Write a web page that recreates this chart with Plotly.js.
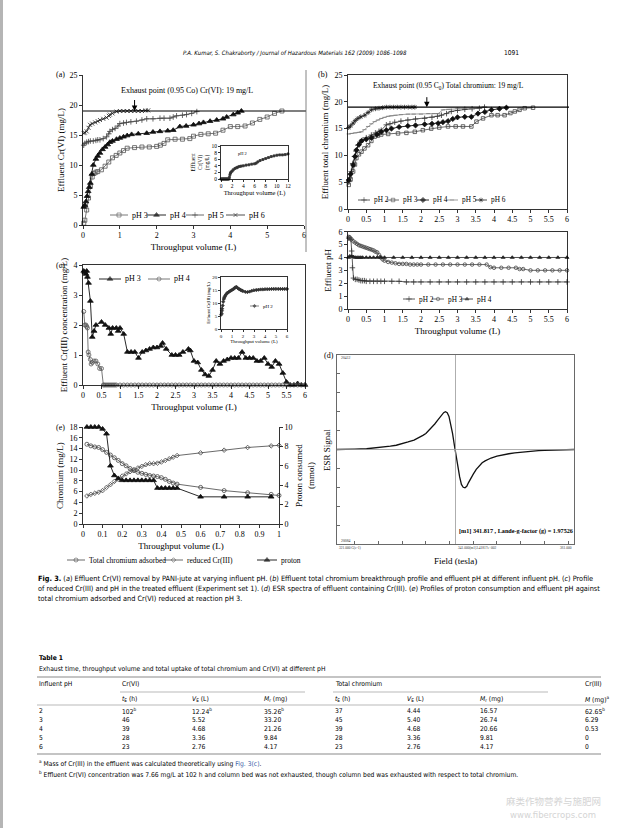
<!DOCTYPE html>
<html><head><meta charset="utf-8">
<script src="https://cdn.plot.ly/plotly-3.0.1.min.js"></script>
<style>html,body{margin:0;padding:0;background:#fff}#chart{width:620px;height:828px}</style>
</head><body><div id="chart"></div>
<script>
// ================= DATA =================
// (a) Effluent Cr(VI) vs throughput volume
const a_pH3_x = [0.02,0.05,0.1,0.15,0.2,0.25,0.3,0.35,0.4,0.5,0.6,0.7,0.8,0.9,1.0,1.1,1.2,1.4,1.6,1.8,2.0,2.1,2.2,2.3,2.5,2.7,2.9,3.0,3.2,3.4,3.6,3.8,4.0,4.2,4.4,4.6,4.8,5.0,5.2,5.4];
const a_pH3_y = [0.3,0.8,2.5,4.5,6.5,8.0,8.6,8.8,8.9,9.2,9.8,10.5,11.2,11.6,12.0,12.4,12.8,12.9,13.0,13.0,13.1,13.3,13.6,14.2,14.3,14.3,14.4,14.8,15.1,15.2,15.3,15.8,16.4,16.4,16.5,17.0,17.6,18.0,18.6,19.0];
const a_pH4_x = [0.02,0.05,0.08,0.11,0.14,0.17,0.2,0.24,0.28,0.35,0.4,0.46,0.53,0.6,0.67,0.73,0.8,0.91,1.0,1.1,1.2,1.32,1.5,1.73,1.9,2.09,2.3,2.45,2.63,2.8,3.0,3.15,3.27,3.45,3.63,3.8,3.9,4.08,4.2,4.3];
const a_pH4_y = [3.0,3.3,3.9,4.8,5.6,6.3,7.0,8.5,10.0,11.0,11.5,12.0,12.6,13.0,13.4,13.8,14.0,14.3,14.5,14.7,14.9,15.1,15.2,15.3,15.5,15.6,15.7,15.8,16.4,16.5,16.7,16.9,17.1,17.3,17.5,17.7,18.0,18.4,18.7,19.0];
const a_pH5_x = [0.02,0.05,0.1,0.15,0.2,0.28,0.35,0.4,0.46,0.55,0.64,0.7,0.73,0.8,0.87,0.95,1.0,1.1,1.18,1.3,1.45,1.6,1.73,1.9,2.09,2.2,2.36,2.45,2.54,2.7,2.81,2.95,3.09];
const a_pH5_y = [13.3,13.6,13.8,13.9,14.0,14.0,14.1,14.2,14.2,14.4,14.7,15.2,15.6,15.9,16.1,16.5,16.9,17.0,17.1,17.2,17.3,17.5,17.7,17.7,17.8,17.8,17.8,18.0,18.2,18.3,18.4,18.6,18.9];
const a_pH6_x = [0.02,0.05,0.1,0.15,0.19,0.25,0.33,0.4,0.46,0.55,0.64,0.7,0.73,0.8,0.91,1.0,1.1,1.2,1.3,1.4,1.5,1.6,1.7,1.77];
const a_pH6_y = [15.3,15.4,15.6,16.2,16.7,16.9,17.1,17.3,17.5,17.7,17.9,18.2,18.4,18.6,18.9,19.0,19.0,19.0,19.0,19.0,19.0,19.0,19.1,19.1];
// (a) inset, pH 2
const ai_x = [0,0.1,0.2,0.3,0.4,0.5,0.6,0.7,0.8,0.9,1.0,1.1,1.2,1.3,1.4,1.5,1.6,1.7,1.8,2.0,2.2,2.5,2.8,3.0,3.3,3.6,4.0,4.5,5.0,5.5,6.0,6.3,6.6,7.0,7.5,8.0,8.5,9.0,9.5,10.0,10.5,11.0,11.5,12.0];
const ai_y = [0,0,0,0,0,0,0,0,0,0,0,0,0,0,0,0.5,1.3,1.8,2.1,2.4,2.8,3.2,3.4,3.6,3.8,3.9,4.0,4.2,4.3,4.5,4.6,4.8,5.2,5.6,5.9,6.2,6.5,6.8,7.0,7.2,7.3,7.3,7.4,7.6];

// (b) Effluent total chromium
const b_pH2_x = [0.02,0.05,0.09,0.13,0.18,0.22,0.27,0.33,0.41,0.5,0.64,0.75,0.85,0.91,1.05,1.15,1.28,1.45,1.64,1.85,2.1,2.3,2.45,2.56,2.7,2.83,3.0,3.2,3.4,3.6,3.74];
const b_pH2_y = [5.1,5.8,7.0,8.5,9.8,10.8,11.9,12.5,12.9,13.3,13.8,14.2,14.5,14.7,15.7,15.9,16.2,16.4,16.6,16.8,16.9,17.1,17.3,17.5,17.8,18.2,18.4,18.6,18.7,18.8,19.0];
const b_pH3_x = [0.02,0.07,0.14,0.19,0.23,0.3,0.37,0.45,0.55,0.64,0.73,0.82,0.91,1.1,1.37,1.6,1.83,2.05,2.28,2.5,2.74,2.95,3.15,3.38,3.52,3.7,3.93,4.1,4.29,4.45,4.57,4.7,4.84,5.07];
const b_pH3_y = [4.5,5.5,7.0,8.3,9.5,10.2,10.7,11.3,11.9,12.7,13.5,13.7,13.9,14.0,14.1,14.2,14.4,14.7,15.0,15.2,15.4,15.4,15.4,15.4,16.3,16.9,17.5,17.5,17.5,17.9,18.2,18.5,18.8,18.9];
const b_pH4_x = [0.02,0.07,0.14,0.19,0.23,0.3,0.37,0.5,0.64,0.8,0.91,1.05,1.19,1.4,1.64,1.85,2.1,2.3,2.47,2.6,2.74,2.87,3.0,3.2,3.38,3.56,3.75,3.93,4.15,4.34];
const b_pH4_y = [5.4,6.5,8.2,9.8,11.0,12.0,12.7,13.0,13.3,13.9,14.4,14.7,15.0,15.3,15.5,15.6,15.8,15.9,16.0,16.2,16.4,16.8,17.1,17.2,17.2,17.8,18.1,18.5,18.7,18.9];
const b_pH5_x = [0.02,0.1,0.2,0.3,0.37,0.45,0.55,0.64,0.73,0.82,0.91,1.0,1.1,1.19,1.3,1.45,1.64,1.8,2.0,2.2,2.35,2.47,2.6,2.75,3.0,3.2,3.4,3.6,3.74];
const b_pH5_y = [14.0,14.1,14.2,14.3,14.4,14.8,15.4,15.9,16.3,16.6,16.9,17.1,17.3,17.4,17.5,17.6,17.7,17.7,17.7,17.8,17.8,17.8,18.5,18.6,18.8,18.8,18.8,18.9,19.0];
const b_pH6_x = [0.02,0.07,0.14,0.2,0.27,0.35,0.46,0.55,0.64,0.75,0.85,0.95,1.05,1.15,1.25,1.35,1.45,1.55,1.65,1.75,1.83];
const b_pH6_y = [15.2,15.5,16.0,16.5,16.9,17.2,17.5,18.0,18.5,18.7,18.8,18.9,19.0,19.0,19.0,19.0,19.0,19.0,19.0,19.0,19.0];

// (b) Effluent pH
const p_pH2_x = [0.02,0.05,0.08,0.1,0.12,0.15,0.2,0.25,0.3,0.35,0.4,0.45,0.5,0.6,0.7,0.8,0.9,1.0,1.2,1.4,1.6,1.8,2.0,2.25,2.5,2.75,3.0,3.25,3.5,3.75,4.0,4.25,4.5,4.75,5.0,5.25,5.5,5.75,6.0];
const p_pH2_y = [5.5,5.5,5.4,4.5,3.2,2.4,2.3,2.3,2.25,2.2,2.2,2.2,2.15,2.15,2.15,2.15,2.15,2.15,2.15,2.15,2.1,2.1,2.1,2.1,2.1,2.1,2.1,2.1,2.1,2.1,2.1,2.1,2.1,2.1,2.1,2.1,2.1,2.1,2.1];
const p_pH3_x = [0.02,0.05,0.1,0.15,0.2,0.25,0.3,0.35,0.4,0.45,0.5,0.55,0.6,0.65,0.7,0.75,0.8,0.85,0.9,0.95,1.0,1.1,1.2,1.3,1.4,1.5,1.6,1.7,1.8,1.9,2.0,2.2,2.4,2.6,2.8,3.0,3.2,3.4,3.6,3.8,3.9,4.0,4.2,4.4,4.6,4.7,4.8,5.0,5.2,5.4,5.6,5.8,6.0];
const p_pH3_y = [5.6,5.55,5.4,5.25,5.15,5.05,4.95,4.9,4.85,4.8,4.75,4.7,4.65,4.6,4.55,4.45,4.4,4.2,4.0,3.85,3.75,3.65,3.6,3.55,3.5,3.5,3.5,3.45,3.45,3.45,3.45,3.45,3.45,3.45,3.45,3.45,3.45,3.45,3.45,3.45,3.25,3.2,3.2,3.2,3.2,3.1,3.1,3.0,3.0,3.0,3.0,3.0,3.0];
const p_pH4_x = [0.02,0.05,0.1,0.15,0.2,0.25,0.3,0.35,0.4,0.5,0.6,0.7,0.8,0.9,1.0,1.25,1.5,1.75,2.0,2.25,2.5,2.75,3.0,3.25,3.5,3.75,4.0,4.25,4.5,4.75,5.0,5.25,5.5,5.75,6.0];
const p_pH4_y = [4.0,4.1,4.1,4.05,4.0,4.0,4.0,4.0,4.0,4.0,4.0,4.0,4.0,4.0,4.0,4.0,4.0,4.0,4.0,4.0,4.0,4.0,4.0,4.0,4.0,4.0,4.0,4.0,4.0,4.0,4.0,4.0,4.0,4.0,4.0];

// (c) Effluent Cr(III)
const c_pH3_x = [0.02,0.05,0.08,0.1,0.12,0.15,0.2,0.25,0.3,0.35,0.5,0.6,0.7,0.75,0.8,0.9,0.95,1.0,1.1,1.2,1.3,1.4,1.5,1.6,1.7,1.8,1.9,2.0,2.1,2.15,2.25,2.4,2.5,2.6,2.7,2.85,2.9,3.0,3.1,3.2,3.3,3.4,3.5,3.6,3.7,3.8,3.9,4.0,4.1,4.2,4.3,4.4,4.5,4.6,4.7,4.8,4.9,5.0,5.1,5.2,5.3,5.4,5.5,5.6,5.7,5.8,5.9,6.0];
const c_pH3_y = [3.8,3.75,3.7,3.8,3.6,3.4,2.8,1.6,1.8,2.0,2.1,2.0,1.9,1.7,1.9,1.9,1.8,1.9,1.7,1.1,1.1,1.1,0.9,1.1,1.15,1.2,1.25,1.25,1.3,1.4,1.2,1.0,1.0,1.0,1.1,1.2,1.15,0.8,0.75,0.5,0.35,0.3,0.5,0.8,0.7,0.8,0.85,0.9,0.9,0.9,1.1,0.9,0.9,0.9,0.8,0.8,0.9,0.7,0.6,0.8,0.7,0.4,0.1,0.0,0.0,0.05,0.0,0.0];
const c_pH4_x = [0.02,0.05,0.08,0.1,0.12,0.14,0.16,0.2,0.22,0.25,0.3,0.35,0.4,0.45,0.5,0.55,0.58,0.62,0.66,0.7,0.74,0.78,0.82,0.86,0.9,1.0,1.1,1.2,1.3,1.4,1.5,1.6,1.7,1.8,1.9,2.0,2.1,2.2,2.3,2.4,2.5,2.6,2.7,2.8,2.9,3.0,3.1,3.2,3.3,3.4,3.5,3.6,3.7,3.8,3.9,4.0,4.1,4.2,4.3,4.4,4.5,4.6,4.7,4.8,4.9,5.0,5.1,5.2,5.3,5.4,5.5,5.6,5.7,5.8,5.9,6.0];
const c_pH4_y = [2.45,2.0,2.0,1.95,1.9,1.1,1.0,0.85,0.7,0.75,0.8,0.8,0.7,0.55,0.55,0,0,0,0,0,0,0,0,0,0,0,0,0,0,0,0,0,0,0,0,0,0,0,0,0,0,0,0,0,0,0,0,0,0,0,0,0,0,0,0,0,0,0,0,0,0,0,0,0,0,0,0,0,0,0,0,0,0,0,0,0];
// (c) inset, pH 2
const ci_x = [0.02,0.05,0.08,0.1,0.15,0.2,0.25,0.3,0.35,0.4,0.5,0.6,0.7,0.8,0.9,1.0,1.1,1.2,1.3,1.4,1.5,1.6,1.7,1.8,1.9,2.0,2.2,2.4,2.6,2.8,3.0,3.2,3.4,3.6,3.8,4.0,4.2,4.4,4.6,4.8,5.0,5.2,5.4,5.6,5.8,6.0];
const ci_y = [5.5,6.0,7.0,7.8,9.0,10.5,11.5,12.0,12.5,13.0,13.5,14.0,14.2,14.5,14.8,15.0,15.3,15.6,16.0,16.2,15.8,15.5,15.2,15.0,14.8,14.6,14.3,14.2,14.4,14.7,14.9,15.0,15.1,15.2,15.2,15.3,15.3,15.3,15.4,15.4,15.4,15.4,15.4,15.4,15.4,15.4];

// (d) ESR spectrum
const esr_field = [321,322,324,326,328,329,330,331,332,333,334,335,335.5,336,336.5,337,337.5,338,338.5,339,339.3,339.6,339.9,340.2,340.5,340.8,341.1,341.4,341.7,342,342.3,342.6,342.9,343.2,343.5,344,344.5,345,345.5,346,347,348,349,350,351,352,353,354,355,356,357,358,359,360,361];
const esr_signal = [0,0,0.005,0.008,0.018,0.025,0.035,0.045,0.06,0.08,0.10,0.13,0.15,0.17,0.20,0.23,0.27,0.31,0.35,0.39,0.40,0.39,0.35,0.27,0.17,0.05,-0.07,-0.18,-0.29,-0.37,-0.40,-0.405,-0.39,-0.35,-0.31,-0.26,-0.21,-0.17,-0.14,-0.12,-0.09,-0.07,-0.055,-0.045,-0.035,-0.028,-0.02,-0.016,-0.012,-0.009,-0.006,-0.004,-0.002,-0.001,0];

// (e) Proton consumption
const e_x_cr = [0.02,0.04,0.06,0.08,0.1,0.12,0.14,0.16,0.18,0.2,0.22,0.24,0.26,0.28,0.3,0.32,0.34,0.36,0.38,0.4,0.42,0.44,0.46,0.48,0.6,0.72,0.84,0.96,1.0];
const e_total = [14.8,14.5,14.3,14.2,13.8,13.3,12.8,12.3,11.8,11.2,10.8,10.3,9.9,9.6,9.4,9.2,9.0,8.9,8.8,8.6,8.3,7.9,7.6,7.4,6.8,6.2,5.8,5.5,5.3];
const e_reduced = [5.2,5.5,5.7,5.9,6.2,6.8,7.3,7.9,8.3,8.9,9.3,9.7,10.1,10.4,10.7,11.0,11.2,11.2,11.3,11.5,11.8,12.1,12.4,12.7,13.2,13.7,14.2,14.5,14.6];
const e_x_pr = [0.02,0.04,0.06,0.08,0.1,0.12,0.14,0.16,0.18,0.2,0.22,0.24,0.26,0.28,0.3,0.32,0.34,0.36,0.38,0.4,0.42,0.44,0.46,0.48,0.6,0.72,0.84,0.96];
const e_proton = [10,10,10,10,9.8,9.3,6.0,5.0,4.7,4.5,4.5,4.5,4.5,4.5,4.5,4.5,4.5,4.5,3.7,3.7,3.7,3.7,3.7,3.7,2.8,2.8,2.8,2.8];

// Table 1
const tblHead = ['Influent pH','Cr(VI)','Total chromium','Cr(III)'];
const tblSub = ['<i>t</i><sub>E</sub> (h)','<i>V</i><sub>E</sub> (L)','<i>M</i><sub>r</sub> (mg)','<i>t</i><sub>E</sub> (h)','<i>V</i><sub>E</sub> (L)','<i>M</i><sub>r</sub> (mg)','<i>M</i> (mg)<sup>a</sup>'];
const tblPH = ['2','3','4','5','6'];
const tE_VI = ['102<sup>b</sup>','46','39','28','23'];
const VE_VI = ['12.24<sup>b</sup>','5.52','4.68','3.36','2.76'];
const Mr_VI = ['35.26<sup>b</sup>','33.20','21.26','9.84','4.17'];
const tE_T = ['37','45','39','28','23'];
const VE_T = ['4.44','5.40','4.68','3.36','2.76'];
const Mr_T = ['16.57','26.74','20.66','9.81','4.17'];
const M_III = ['62.65<sup>b</sup>','6.29','0.53','0','0'];

// ================= DRAWING =================
const SERIF = "'Liberation Serif','Times New Roman',serif";
const SANS = "'Liberation Sans Narrow','DejaVu Sans Condensed','Arial Narrow','Liberation Sans',sans-serif";
const W = 620, H = 828;
const dx = (a,b) => [a/W, b/W];
const dy = (t,b) => [1-b/H, 1-t/H];
const px = v => v/W, py = v => 1-v/H;

const AX = {showline:true, linecolor:'#000', linewidth:0.8, ticks:'outside', ticklen:3, tickwidth:0.8,
  tickcolor:'#000', showgrid:false, zeroline:false, fixedrange:true,
  tickfont:{family:SERIF, size:8, color:'#000'}};
const ax = e => Object.assign({}, AX, e);
const ttl = (t, s, so) => ({text:t, font:{family:SERIF, size:s, color:'#000'}, standoff:so});

function mk(sym, size, col){ return {symbol:sym, size:size, color:col||'#222', line:{width:0.8, color:col||'#222'}}; }
const ST = {
  a3:{line:{color:'#555',width:0.8}, marker:mk('square-open',4,'#555')},
  a4:{line:{color:'#111',width:0.9}, marker:mk('triangle-up',5,'#111')},
  a5:{line:{color:'#444',width:0.8}, marker:mk('cross-thin-open',4,'#444')},
  a6:{line:{color:'#222',width:0.8}, marker:mk('x-thin-open',4,'#222')},
  ai:{line:{color:'#333',width:0.6}, marker:mk('square',2,'#333')},
  b2:{line:{color:'#333',width:0.8}, marker:mk('cross-thin-open',4,'#333')},
  b3:{line:{color:'#444',width:0.8}, marker:mk('square-open',3.5,'#444')},
  b4:{line:{color:'#111',width:0.9}, marker:mk('diamond',4,'#111')},
  b5:{line:{color:'#777',width:0.7}, marker:mk('line-ew-open',3,'#777')},
  b6:{line:{color:'#222',width:0.8}, marker:mk('asterisk-open',4,'#222')},
  p2:{line:{color:'#333',width:0.8}, marker:mk('cross-thin-open',4,'#333')},
  p3:{line:{color:'#444',width:0.8}, marker:mk('circle-open',3.5,'#444')},
  p4:{line:{color:'#222',width:0.8}, marker:mk('triangle-up',3.5,'#222')},
  c3:{line:{color:'#111',width:0.9}, marker:mk('triangle-up',5,'#111')},
  c4:{line:{color:'#555',width:0.8}, marker:mk('circle-open',4,'#555')},
  ci:{line:{color:'#333',width:0.6}, marker:mk('diamond',2.5,'#333')},
  esr:{line:{color:'#111',width:1.3}, marker:{size:1, color:'#111'}},
  et:{line:{color:'#444',width:0.8}, marker:mk('circle-open',4,'#444')},
  er:{line:{color:'#444',width:0.8}, marker:mk('diamond-open',3.5,'#444')},
  ep:{line:{color:'#111',width:0.9}, marker:mk('triangle-up',5,'#111')}
};
function tr(x, y, st, xa, ya, mode){
  return {type:'scatter', mode:mode||'lines+markers', x:x, y:y, xaxis:xa, yaxis:ya,
    line:st.line, marker:st.marker, hoverinfo:'skip', showlegend:false, cliponaxis:false};
}
const data = [
  tr(a_pH3_x,a_pH3_y,ST.a3,'x','y'), tr(a_pH4_x,a_pH4_y,ST.a4,'x','y'),
  tr(a_pH5_x,a_pH5_y,ST.a5,'x','y'), tr(a_pH6_x,a_pH6_y,ST.a6,'x','y'),
  tr(ai_x,ai_y,ST.ai,'x2','y2'),
  tr(b_pH2_x,b_pH2_y,ST.b2,'x3','y3'), tr(b_pH3_x,b_pH3_y,ST.b3,'x3','y3'),
  tr(b_pH4_x,b_pH4_y,ST.b4,'x3','y3'), tr(b_pH5_x,b_pH5_y,ST.b5,'x3','y3'),
  tr(b_pH6_x,b_pH6_y,ST.b6,'x3','y3'),
  tr(p_pH2_x,p_pH2_y,ST.p2,'x4','y4'), tr(p_pH3_x,p_pH3_y,ST.p3,'x4','y4'),
  tr(p_pH4_x,p_pH4_y,ST.p4,'x4','y4'),
  tr(c_pH3_x,c_pH3_y,ST.c3,'x5','y5'), tr(c_pH4_x,c_pH4_y,ST.c4,'x5','y5'),
  tr(ci_x,ci_y,ST.ci,'x6','y6'),
  tr(e_x_cr,e_total,ST.et,'x7','y7'), tr(e_x_cr,e_reduced,ST.er,'x7','y7'),
  tr(e_x_pr,e_proton,ST.ep,'x7','y8'),
  tr(esr_field,esr_signal,ST.esr,'x9','y9','lines')
];

const annotations = [];
function txt(x, y, text, o){
  o = o || {};
  annotations.push({xref:'paper', yref:'paper', x:px(x), y:py(y), text:text, showarrow:false,
    xanchor:o.xa||'left', yanchor:o.ya||'middle', textangle:o.ang||0,
    font:{family:o.f||SERIF, size:o.s||8, color:o.c||'#000'}});
}
// legend keys (drawn on a page-pixel overlay axis x10/y10)
function key(x1, x2, y, st, label, fs){
  data.push({type:'scatter', mode:'lines+markers', x:[x1,(x1+x2)/2,x2], y:[y,y,y], xaxis:'x10', yaxis:'y10',
    line:st.line, marker:Object.assign({}, st.marker, {size:[0, st.marker.size, 0]}),
    hoverinfo:'skip', showlegend:false, cliponaxis:false});
  txt(x2+2, y, label, {s:fs||8});
}
key(110,128,215,ST.a3,'pH 3'); key(147,166,215,ST.a4,'pH 4');
key(186,204,215,ST.a5,'pH 5'); key(226,245,215,ST.a6,'pH 6');
key(358,370,200,ST.b2,'pH 2',7.3); key(387,399,200,ST.b3,'pH 3',7.3); key(417,429,200,ST.b4,'pH 4',7.3);
key(446,458,200,ST.b5,'pH 5',7.3); key(475,487,200,ST.b6,'pH 6',7.3);
key(403,415,299,ST.p2,'pH 2',7.3); key(432,444,299,ST.p3,'pH 3',7.3); key(461,473,299,ST.p4,'pH 4',7.3);
key(99,121,279,ST.c3,'pH 3'); key(148,170,279,ST.c4,'pH 4');
key(250,259,306,ST.ci,'pH 2',5);
key(67,85,560,ST.et,'Total chromium adsorbed',7.5); key(164,183,560,ST.er,'reduced Cr(III)',7.5);
key(257,277,560,ST.ep,'proton',7.5);

const layout = {
  width:W, height:H, margin:{l:0,r:0,t:0,b:0}, paper_bgcolor:'#fff', plot_bgcolor:'rgba(0,0,0,0)',
  showlegend:false, font:{family:SERIF, size:8, color:'#000'},
  xaxis: ax({domain:dx(83,304), range:[0,6], dtick:1, anchor:'y', title:ttl('Throughput volume (L)',9,4)}),
  yaxis: ax({domain:dy(75,225), range:[0,25], dtick:5, anchor:'x', title:ttl('Effluent Cr(VI) (mg/L)',9,3)}),
  xaxis2: ax({domain:dx(221,288), range:[0,12], dtick:2, anchor:'y2', mirror:true, ticklen:2,
    tickfont:{family:SERIF,size:5.5,color:'#000'}, title:ttl('Throughput volume (L)',6.5,1)}),
  yaxis2: ax({domain:dy(146,179), range:[0,10], dtick:2, anchor:'x2', mirror:true, ticklen:2,
    tickfont:{family:SERIF,size:5.5,color:'#000'}, title:ttl('Effluent<br>Cr(VI)<br>(mg/L)',5.5,1)}),
  xaxis3: ax({domain:dx(348,567), range:[0,6], dtick:0.5, anchor:'y3', mirror:true}),
  yaxis3: ax({domain:dy(75,209), range:[0,25], dtick:5, anchor:'x3', mirror:true, title:ttl('Effluent total chromium (mg/L)',9,4)}),
  xaxis4: ax({domain:dx(348,567), range:[0,6], dtick:0.5, anchor:'y4', mirror:true, title:ttl('Throughput volume (L)',9,4)}),
  yaxis4: ax({domain:dy(231.7,309), range:[0,6], dtick:1, anchor:'x4', mirror:true, title:ttl('Effluent pH',9,5)}),
  xaxis5: ax({domain:dx(83,305), range:[0,6], dtick:0.5, anchor:'y5', mirror:true, title:ttl('Throughput volume (L)',9,4)}),
  yaxis5: ax({domain:dy(265,385), range:[0,4], dtick:1, anchor:'x5', mirror:true, title:ttl('Effluent Cr(III) concentration (mg/L)',9,4)}),
  xaxis6: ax({domain:dx(221,287), range:[0,6], dtick:1, anchor:'y6', mirror:true, ticklen:2,
    tickfont:{family:SERIF,size:5,color:'#000'}, title:ttl('Throughput volume (L)',5,1)}),
  yaxis6: ax({domain:dy(277,329), range:[0,20], dtick:5, anchor:'x6', mirror:true, ticklen:2,
    tickfont:{family:SERIF,size:5,color:'#000'}, title:ttl('Effluent Cr(III) (mg/L)',4.5,1)}),
  xaxis7: ax({domain:dx(83,279), range:[0,1], dtick:0.1, anchor:'y7', title:ttl('Throughput volume (L)',9,4)}),
  yaxis7: ax({domain:dy(427,524), range:[0,18], dtick:2, anchor:'x7', title:ttl('Chromium (mg/L)',9,4)}),
  yaxis8: ax({domain:dy(427,524), range:[0,10], dtick:2, anchor:'x7', overlaying:'y7', side:'right',
    title:ttl('Proton consumed<br>(mmol)',9,4)}),
  xaxis9: ax({domain:dx(337,574), range:[321,361], dtick:4, anchor:'y9', mirror:true, linecolor:'#444',
    showticklabels:false, ticks:'inside', ticklen:3, tickcolor:'#444'}),
  yaxis9: ax({domain:dy(355,544), range:[-1,1], dtick:0.2, anchor:'x9', mirror:true, linecolor:'#444',
    showticklabels:false, ticks:'inside', ticklen:3, tickcolor:'#444'}),
  xaxis10: {domain:[0,1], range:[0,W], visible:false, fixedrange:true, anchor:'y10'},
  yaxis10: {domain:[0,1], range:[H,0], visible:false, fixedrange:true, anchor:'x10'},
  shapes: [
    {type:'rect', xref:'paper', yref:'paper', x0:0, x1:px(3), y0:0, y1:1, fillcolor:'#b5b5b5', line:{width:0}},
    {type:'line', xref:'paper', yref:'y', x0:px(83), x1:px(306), y0:19, y1:19, line:{color:'#000', width:1.2}},
    {type:'line', xref:'paper', yref:'y3', x0:px(348), x1:px(569), y0:19, y1:19, line:{color:'#000', width:1.2}},
    {type:'line', xref:'paper', yref:'paper', x0:px(306), x1:px(306), y0:py(70), y1:py(252), line:{color:'#666', width:0.8}},
    {type:'line', xref:'x9', yref:'paper', x0:341, x1:341, y0:py(544), y1:py(355), line:{color:'#999', width:0.8}},
    {type:'line', xref:'paper', yref:'y9', x0:px(337), x1:px(574), y0:0, y1:0, line:{color:'#999', width:0.8}}
  ],
  annotations: annotations
};

annotations.push({xref:'x', yref:'y', x:1.4, y:19, ax:0, ay:-17, showarrow:true, arrowhead:2, arrowsize:1.1, arrowwidth:1, arrowcolor:'#000', standoff:0});
annotations.push({xref:'x3', yref:'y3', x:2.16, y:19, ax:0, ay:-16, showarrow:true, arrowhead:2, arrowsize:1.1, arrowwidth:1, arrowcolor:'#000', standoff:0});
txt(187, 90, 'Exhaust point (0.95 Co) Cr(VI): 19 mg/L', {xa:'center'});
txt(448, 86, 'Exhaust point (0.95 C<sub>0</sub>) Total chromium: 19 mg/L', {xa:'center', s:7.5});
txt(236, 154, 'pH 2', {s:4.5});

txt(54, 75, '(a)'); txt(316, 75, '(b)'); txt(54, 265, '(c)'); txt(322, 355, '(d)'); txt(54, 428, '(e)');

txt(327, 450, 'ESR Signal', {ang:-90, xa:'center', s:9});
txt(455, 561, 'Field (tesla)', {xa:'center', s:9});
txt(457, 531, '<b>[m1] 341.817 , Lande-g-factor (g) = 1.97526</b>', {s:6.2});
txt(339, 358, '20412', {s:3.8, c:'#333'});
txt(339, 541, '20084', {s:3.8, c:'#333'});
txt(337, 548, '321.000 G(e-1)', {s:3.5, c:'#333'});
txt(456, 548, '341.000(m1)3.41817e+002', {s:3.5, c:'#333'});
txt(574, 548, '361.000', {s:3.5, c:'#333', xa:'right'});

txt(295, 53, '<i>P.A. Kumar, S. Chakraborty / Journal of Hazardous Materials 162 (2009) 1086–1098</i>', {f:SANS, s:6.0, xa:'center'});
txt(521, 53, '1091', {f:SANS, s:6.6, xa:'right'});

const CF = {f:SANS, s:7.3};
txt(36, 578, '<b>Fig. 3.</b> (<i>a</i>) Effluent Cr(VI) removal by PANI-jute at varying influent pH. (<i>b</i>) Effluent total chromium breakthrough profile and effluent pH at different influent pH. (<i>c</i>) Profile', CF);
txt(36, 588, 'of reduced Cr(III) and pH in the treated effluent (Experiment set 1). (<i>d</i>) ESR spectra of effluent containing Cr(III). (<i>e</i>) Profiles of proton consumption and effluent pH against', CF);
txt(36, 598, 'total chromium adsorbed and Cr(VI) reduced at reaction pH 3.', CF);

const TF = {f:SANS, s:6.7};
txt(37, 658, '<b>Table 1</b>', TF);
txt(37, 669, 'Exhaust time, throughput volume and total uptake of total chromium and Cr(VI) at different pH', TF);
const colX = [37, 120, 190, 262, 333, 405, 478, 583];
txt(colX[0], 684, tblHead[0], TF); txt(colX[1], 684, tblHead[1], TF);
txt(colX[4], 684, tblHead[2], TF); txt(colX[7], 684, tblHead[3], TF);
tblSub.forEach((s,i) => txt(colX[i+1], 699, s, TF));
const cols = [tblPH, tE_VI, VE_VI, Mr_VI, tE_T, VE_T, Mr_T, M_III];
const rowY = [711, 720, 729, 738, 747];
cols.forEach((col,ci) => col.forEach((v,ri) => txt(colX[ci], rowY[ri], v, TF)));
txt(37, 763, '<sup>a</sup> Mass of Cr(III) in the effluent was calculated theoretically using <span style="color:#3a62a8">Fig. 3(c)</span>.', TF);
txt(37, 774, '<sup>b</sup> Effluent Cr(VI) concentration was 7.66 mg/L at 102 h and column bed was not exhausted, though column bed was exhausted with respect to total chromium.', TF);
const rule = (x0,x1,y,w) => layout.shapes.push({type:'line', xref:'paper', yref:'paper', x0:px(x0), x1:px(x1), y0:py(y), y1:py(y), line:{color:'#8a8a8a', width:w}});
rule(37, 601, 677, 1.2);
rule(120, 305, 692, 0.6);
rule(333, 548, 692, 0.6);
rule(37, 601, 705, 0.6);
rule(37, 601, 754, 1.2);

txt(553, 801, '麻类作物营养与施肥网', {f:"'Noto Sans CJK SC',sans-serif", s:9.5, c:'#d4d4d4', xa:'center'});
txt(553, 815, 'www.fibercrops.com', {f:"'DejaVu Sans',sans-serif", s:8.5, c:'#d4d4d4', xa:'center'});

Plotly.newPlot('chart', data, layout, {staticPlot:true, displayModeBar:false});
</script>
</body></html>
